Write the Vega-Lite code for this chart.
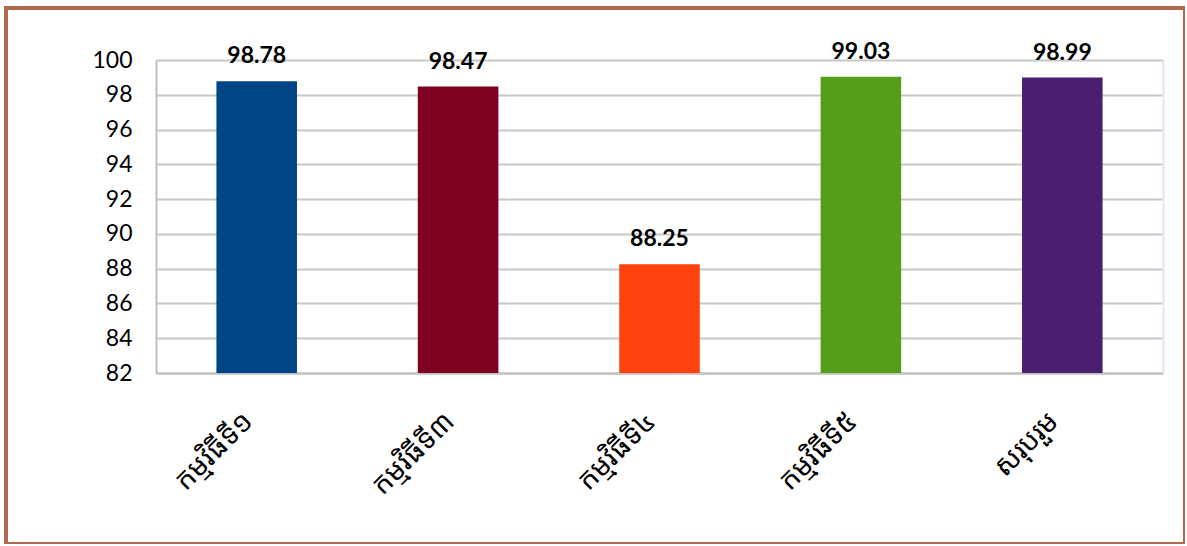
{
  "$schema": "https://vega.github.io/schema/vega-lite/v6.json",
  "width": 1179,
  "height": 536,
  "autosize": {"type": "none"},
  "padding": {"left": 6, "top": 8, "right": 0, "bottom": 0},
  "background": "white",
  "config": {
    "view": {"stroke": "#B0694F", "strokeWidth": 4, "fill": "white"},
    "font": "Lato"
  },
  "data": {
    "values": [
      {"program": "កម្មវិធីទី១", "value": 98.78},
      {"program": "កម្មវិធីទី៣", "value": 98.47},
      {"program": "កម្មវិធីទី៤", "value": 88.25},
      {"program": "កម្មវិធីទី៥", "value": 99.03},
      {"program": "សរុបរួម", "value": 98.99}
    ]
  },
  "encoding": {
    "x": {
      "field": "program",
      "type": "nominal",
      "sort": null,
      "scale": {"range": [150, 1157], "paddingInner": 0.6, "paddingOuter": 0.3},
      "axis": {
        "title": null,
        "offset": -171,
        "labelAngle": -45,
        "labelAlign": "right",
        "labelBaseline": "middle",
        "labelPadding": 44,
        "labelOffset": -8,
        "labelFontSize": 28,
        "labelFont": "Noto Sans Khmer, Khmer OS, Khmer OS System, Hanuman, Noto Serif Khmer, sans-serif",
        "labelColor": "#000000",
        "ticks": false,
        "domainColor": "#BFBFBF",
        "domainWidth": 2,
        "grid": false
      }
    },
    "y": {
      "field": "value",
      "type": "quantitative",
      "scale": {"domain": [82, 100], "range": [365, 52], "nice": false, "zero": false}
    }
  },
  "layer": [
    {
      "encoding": {
        "y": {
          "field": "value",
          "type": "quantitative",
          "axis": {
            "title": null,
            "orient": "left",
            "offset": -150,
            "values": [82, 84, 86, 88, 90, 92, 94, 96, 98, 100],
            "labelFontSize": 23,
            "labelColor": "#000000",
            "labelPadding": 24,
            "ticks": false,
            "domainColor": "#BFBFBF",
            "domainWidth": 2,
            "grid": true,
            "gridColor": "#C8C8C8",
            "gridWidth": 2
          }
        }
      },
      "layer": [
        {
          "mark": {"type": "bar"},
          "encoding": {
            "y2": {"datum": 82},
            "color": {
              "field": "program",
              "type": "nominal",
              "sort": null,
              "scale": {"range": ["#004586", "#7E0021", "#FF420E", "#579D1C", "#4B1F6F"]},
              "legend": null
            }
          }
        },
        {
          "mark": {"type": "text", "fontSize": 23, "fontWeight": "bold", "baseline": "alphabetic", "dy": -18, "color": "#000000"},
          "encoding": {
            "text": {"field": "value", "type": "quantitative", "format": ".2f"}
          }
        }
      ]
    },
    {
      "mark": {"type": "rule", "opacity": 0},
      "encoding": {
        "y": {
          "field": "value",
          "type": "quantitative",
          "axis": {
            "orient": "right",
            "offset": -22,
            "title": null,
            "labels": false,
            "ticks": false,
            "grid": false,
            "domainColor": "#E3E3F5",
            "domainWidth": 2
          }
        }
      }
    }
  ],
  "resolve": {"axis": {"y": "independent"}}
}
